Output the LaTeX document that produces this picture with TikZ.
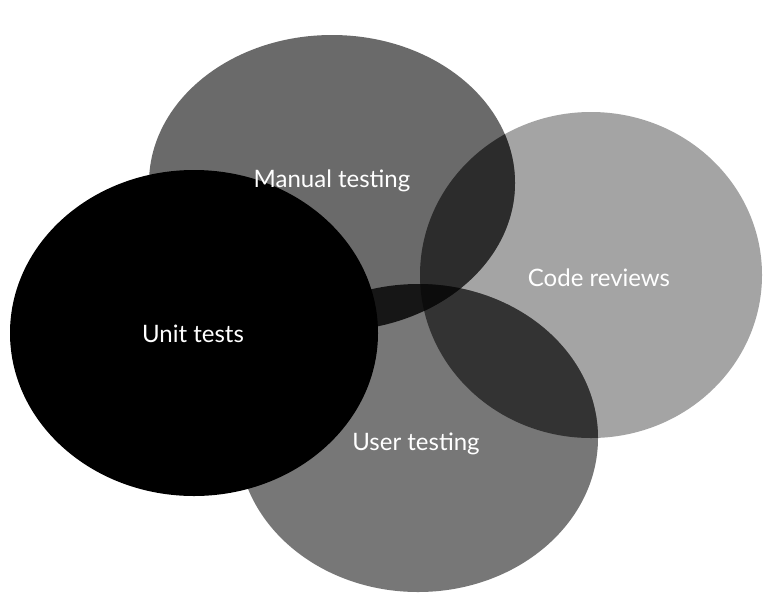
\documentclass[tikz,border=0pt]{standalone}
\usepackage{fontspec}
\setmainfont{Lato}
\begin{document}
\begin{tikzpicture}[x=1pt,y=-1pt,
  label text/.style={text=white, font=\fontsize{24}{28}\selectfont, anchor=base, inner sep=0pt}]
  \definecolor{manualfill}{HTML}{6A6A6A}
  \definecolor{codefill}{HTML}{A4A4A4}
  \definecolor{userfill}{HTML}{777777}
  \definecolor{manualcode}{HTML}{2C2C2C}
  \definecolor{usercode}{HTML}{333333}
  \definecolor{manualuser}{HTML}{161616}
  \definecolor{allthree}{HTML}{0C0C0C}
  \def\manualpath{(332,183) ellipse [x radius=183pt, y radius=148pt]}
  \def\codepath{(591,275) ellipse [x radius=171pt, y radius=163pt]}
  \def\userpath{(418,438) ellipse [x radius=180pt, y radius=154pt]}
  \def\unitpath{(194,333) ellipse [x radius=184pt, y radius=163pt]}

  \useasboundingbox (0,0) rectangle (767,603);
  \fill[white] (0,0) rectangle (767,603);

  % single areas
  \fill[codefill] \codepath;
  \fill[manualfill] \manualpath;
  \fill[userfill] \userpath;

  % pairwise overlaps
  \begin{scope}
    \clip \manualpath;
    \fill[manualcode] \codepath;
  \end{scope}
  \begin{scope}
    \clip \userpath;
    \fill[usercode] \codepath;
  \end{scope}
  \begin{scope}
    \clip \manualpath;
    \fill[manualuser] \userpath;
  \end{scope}
  \begin{scope}
    \clip \manualpath;
    \clip \userpath;
    \fill[allthree] \codepath;
  \end{scope}

  % unit tests sits on top
  \fill[black] \unitpath;

  \node[label text] (manual) at (332,187) {Manual testing};
  \node[label text] (code) at (599,286) {Code reviews};
  \node[label text] (user) at (416,450) {User testing};
  \node[label text] (unit) at (193,342) {Unit tests};
\end{tikzpicture}
\end{document}
